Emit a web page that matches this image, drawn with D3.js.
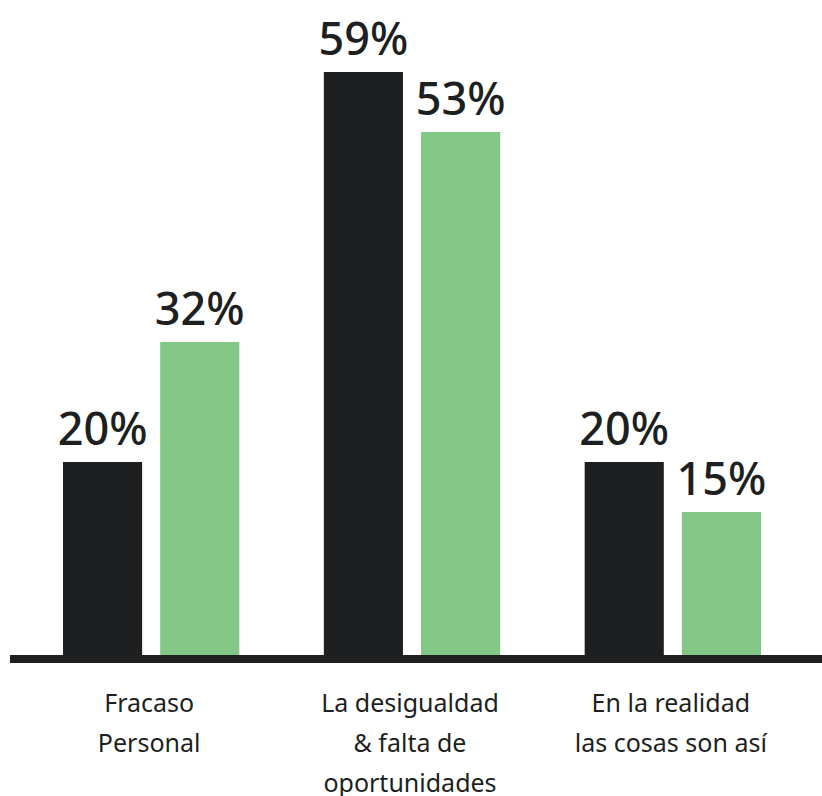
<!DOCTYPE html>
<html>
<head>
<meta charset="utf-8">
<script src="https://cdn.jsdelivr.net/npm/d3@7"></script>
<style>
  html, body { margin: 0; padding: 0; background: #ffffff; }
  svg { display: block; }
</style>
</head>
<body>
<svg id="chart" width="822" height="796"></svg>
<script>
const categories = [["Fracaso", "Personal"], ["La desigualdad", "& falta de", "oportunidades"], ["En la realidad", "las cosas son así"]];
const seriesNames = ["Serie 1", "Serie 2"];
const series1 = [20, 59, 20];
const series2 = [32, 53, 15];
const colors = ["#1e1f21", "#82c785"];

const svg = d3.select("#chart");
const catKeys = categories.map((c, i) => i);
const x0 = d3.scaleBand().domain(catKeys).range([63, 761]).paddingInner(0.324).paddingOuter(0);
const x1 = d3.scaleBand().domain(seriesNames).range([0, x0.bandwidth()]).paddingInner(0.186).paddingOuter(0);
const y = d3.scaleLinear().domain([0, 60]).range([662, 62]);

const data = catKeys.map(i => ({ i, values: [series1[i], series2[i]] }));

const g = svg.selectAll("g.grp").data(data).join("g")
  .attr("class", "grp")
  .attr("transform", d => `translate(${x0(d.i)},0)`);

g.selectAll("rect").data(d => d.values.map((v, k) => ({ v, k }))).join("rect")
  .attr("x", d => x1(seriesNames[d.k]))
  .attr("width", x1.bandwidth())
  .attr("y", d => y(d.v))
  .attr("height", d => y(0) - y(d.v))
  .attr("fill", d => colors[d.k]);

g.selectAll("text.val").data(d => d.values.map((v, k) => ({ v, k }))).join("text")
  .attr("class", "val")
  .attr("x", d => x1(seriesNames[d.k]) + x1.bandwidth() / 2)
  .attr("y", d => y(d.v) - 17)
  .attr("text-anchor", "middle")
  .attr("font-family", "'Noto Sans', sans-serif")
  .attr("font-weight", 500)
  .attr("font-size", 45)
  .attr("fill", "#1e1f21")
  .text(d => d.v + "%");

// baseline
svg.append("line")
  .attr("x1", 10).attr("x2", 822)
  .attr("y1", 659).attr("y2", 659)
  .attr("stroke", "#1e1f21").attr("stroke-width", 8);

// category labels
const lab = svg.selectAll("text.cat").data(data).join("text")
  .attr("class", "cat")
  .attr("text-anchor", "middle")
  .attr("font-family", "'Noto Sans', sans-serif")
  .attr("font-size", 25)
  .attr("fill", "#1e1f21");
lab.selectAll("tspan").data(d => categories[d.i].map(t => ({ t, i: d.i }))).join("tspan")
  .attr("x", d => x0(d.i) + x0.bandwidth() / 2 - 2)
  .attr("y", (d, j) => 712 + j * 40)
  .text(d => d.t);
</script>
</body>
</html>
